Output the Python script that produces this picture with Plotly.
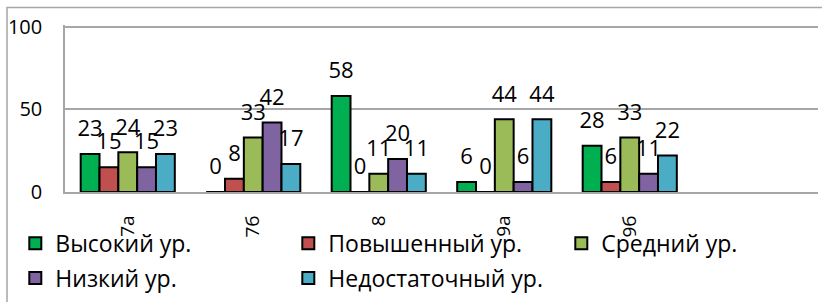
import plotly.graph_objects as go

categories = ["7а", "7б", "8", "9а", "9б"]
series_names = ["Высокий ур.", "Повышенный ур.", "Средний ур.", "Низкий ур.", "Недостаточный ур."]
vysokiy = [23, 0, 58, 6, 28]
povyshenny = [15, 8, 0, 0, 6]
sredniy = [24, 33, 11, 44, 33]
nizkiy = [15, 42, 20, 6, 11]
nedostatochny = [23, 17, 11, 44, 22]
colors = ["#00B050", "#C0504D", "#9BBB59", "#8064A2", "#4BACC6"]
y_ticks = [0, 50, 100]

FONT = "Open Sans"
GRID = "#A6A6A6"
series = [vysokiy, povyshenny, sredniy, nizkiy, nedostatochny]

fig = go.Figure()
for i, (name, vals, col) in enumerate(zip(series_names, series, colors)):
    fig.add_trace(go.Bar(
        x=categories, y=vals, name=name, offsetgroup=f"g{i}",
        marker=dict(color=col, line=dict(color="black", width=2)),
        legend="legend" if i < 3 else "legend2",
        hoverinfo="skip",
    ))
for i, vals in enumerate(series):
    fig.add_trace(go.Scatter(
        x=categories, y=vals, mode="markers+text", offsetgroup=f"g{i}",
        text=[str(v) for v in vals], textposition="top center",
        textfont=dict(family=FONT, size=22, color="black"),
        marker=dict(size=18, color="rgba(0,0,0,0)"),
        showlegend=False, cliponaxis=False, hoverinfo="skip",
    ))

fig.update_layout(
    width=822, height=302,
    margin=dict(l=65, r=4, t=25, b=110, autoexpand=False),
    paper_bgcolor="white", plot_bgcolor="white",
    barmode="group", bargap=0.25, bargroupgap=0,
    scattermode="group", scattergap=0.25,
    font=dict(family=FONT, color="black"),
    xaxis=dict(
        type="category", range=[-0.5, 5.5], tickangle=-90,
        tickfont=dict(size=19), showline=True, linecolor=GRID, linewidth=1.5,
        ticks="", ticklabelstandoff=14, showgrid=False,
    ),
    yaxis=dict(
        range=[0, 101], tickvals=y_ticks, tickfont=dict(size=20),
        showline=True, linecolor=GRID, linewidth=1.5,
        showgrid=True, gridcolor=GRID, gridwidth=1.5, zeroline=False,
        ticks="", ticklabelstandoff=17,
    ),
    legend=dict(
        orientation="h", x=-0.066, xanchor="left", y=-0.178, yanchor="top",
        entrywidth=228, entrywidthmode="pixels", font=dict(size=23),
        bgcolor="rgba(0,0,0,0)",
    ),
    legend2=dict(
        orientation="h", x=-0.066, xanchor="left", y=-0.386, yanchor="top",
        entrywidth=228, entrywidthmode="pixels", font=dict(size=23),
        bgcolor="rgba(0,0,0,0)",
    ),
    shapes=[
        dict(
            type="rect", xref="paper", yref="paper",
            x0=-0.077, x1=1.02, y0=-0.75, y1=1.105,
            line=dict(color=GRID, width=1.5), layer="below",
        ),
        dict(
            type="line", xref="paper", yref="y",
            x0=0, x1=1, y0=y_ticks[-1], y1=y_ticks[-1],
            line=dict(color=GRID, width=1.5), layer="below",
        ),
    ],
    showlegend=True,
)

fig.write_html(
    "out.html",
    config={"displayModeBar": False},
    post_script="document.body.style.margin='0';",
)
